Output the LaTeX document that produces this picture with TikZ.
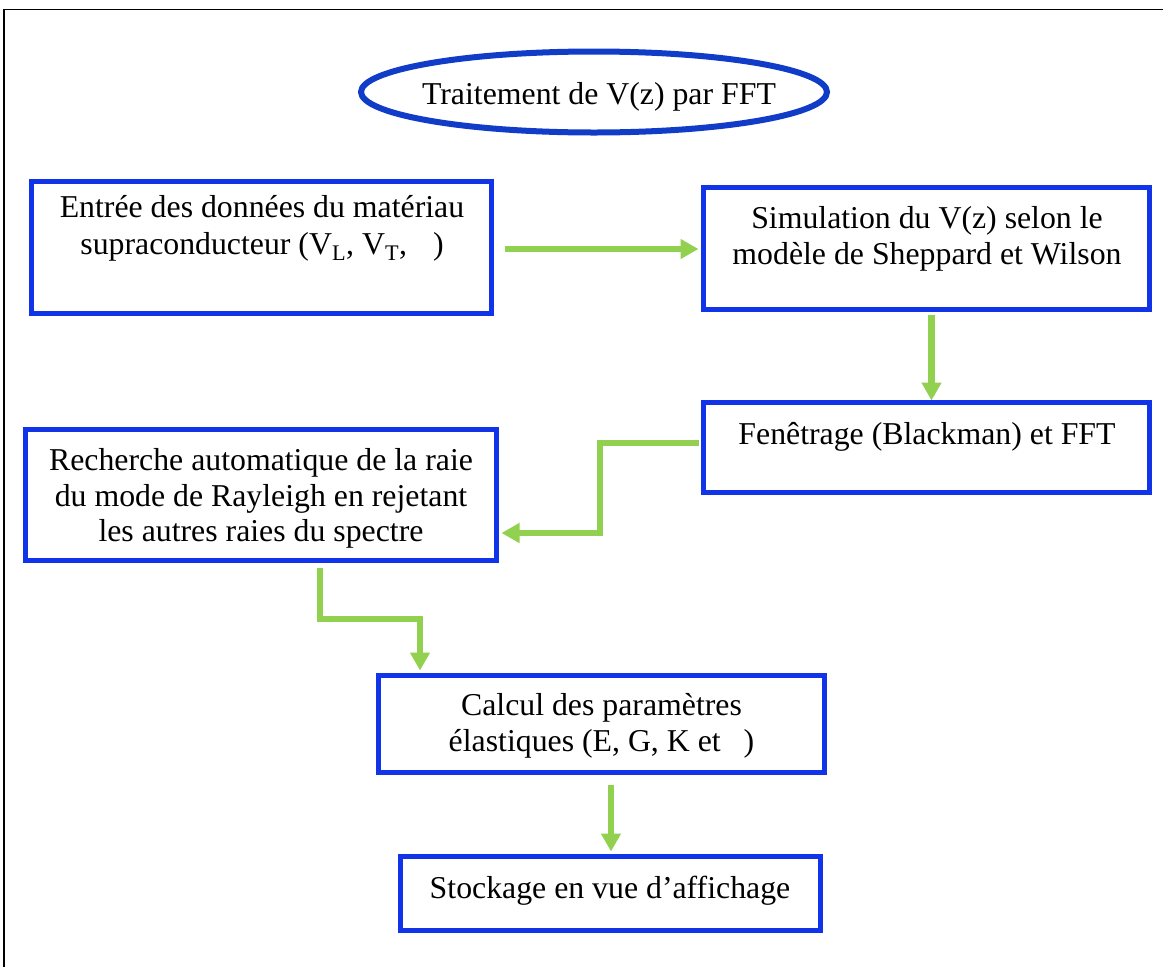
\documentclass[tikz,border=0pt]{standalone}
\usepackage{fontspec}
\setmainfont{Liberation Serif}
\usetikzlibrary{arrows.meta,calc,shapes.geometric}
\definecolor{boxblue}{RGB}{18,52,232}
\definecolor{ellblue}{RGB}{16,60,200}
\definecolor{arrgreen}{RGB}{146,208,80}
\begin{document}
\begin{tikzpicture}[x=1pt,y=-1pt,
  box/.style={draw=boxblue, line width=5pt, rectangle, inner sep=0pt, fill=white},
  txt/.style={font=\fontsize{31.8pt}{36.5pt}\selectfont, align=center, inner sep=0pt, anchor=north},
  flow/.style={draw=arrgreen, line width=6.5pt, -{Triangle[length=18pt,width=19pt]}},
  frameline/.style={draw=black, line width=1.2pt}
]
\useasboundingbox (0,0) rectangle (1163,967);
\fill[white] (0,0) rectangle (1163,967);
\draw[frameline] (4,967) -- (4,9.5) -- (1163,9.5);

% title ellipse
\node[ellipse, draw=ellblue, line width=6pt, minimum width=466pt, minimum height=81pt, inner sep=0pt] (e0) at (594,92) {};
\node[txt] (t0) at (599,74) {\rule{0pt}{30pt}Traitement de V(z) par FFT};

% boxes
\node[box, minimum width=460pt, minimum height=132pt] (b1) at (261.5,247.5) {};
\node[box, minimum width=446pt, minimum height=122pt] (b2) at (926.5,248.5) {};
\node[box, minimum width=446pt, minimum height=90pt]  (b3) at (926.5,447.5) {};
\node[box, minimum width=471pt, minimum height=131pt] (b4) at (261,495) {};
\node[box, minimum width=446pt, minimum height=97pt]  (b5) at (601.5,724) {};
\node[box, minimum width=420pt, minimum height=74pt]  (b6) at (610.5,893.5) {};

% texts
\node[txt] (t1) at (262,187.7) {\rule{0pt}{30pt}Entrée des données du matériau\\supraconducteur (V\textsubscript{L}, V\textsubscript{T}, \hspace{18pt})};
\node[txt] (t2) at (927,198) {\rule{0pt}{30pt}Simulation du V(z) selon le\\modèle de Sheppard et Wilson};
\node[txt] (t3) at (927,414) {\rule{0pt}{30pt}Fenêtrage (Blackman) et FFT};
\node[txt, font=\fontsize{31.8pt}{35.8pt}\selectfont] (t4) at (261,440) {\rule{0pt}{30pt}Recherche automatique de la raie\\du mode de Rayleigh en rejetant\\les autres raies du spectre};
\node[txt] (t5) at (601.5,685) {\rule{0pt}{30pt}Calcul des paramètres\\élastiques (E, G, K et \hspace{15pt})};
\node[txt] (t6) at (610,868) {\rule{0pt}{30pt}Stockage en vue d’affichage};

% connector end points
\coordinate (a1s) at ($(b1.east)+(10.5,1.5)$);
\coordinate (a1e) at ($(b2.west)+(-2.5,0.5)$);
\coordinate (a2s) at ($(b2.south)+(5,2.5)$);
\coordinate (a2e) at ($(b3.north)+(5,0.5)$);
\coordinate (a3s) at ($(b3.west)+(-2.5,-4.5)$);
\coordinate (a3e) at ($(b4.east)+(2.5,38)$);
\coordinate (a4s) at ($(b4.south)+(59,4.5)$);
\coordinate (a4e) at ($(b5.north)+(-181.5,-2.5)$);
\coordinate (a5s) at ($(b5.south)+(9.5,9.5)$);
\coordinate (a5e) at ($(b6.north)+(0.5,-2.5)$);

% connectors
\draw[flow] (a1s) -- (a1e |- a1s);
\draw[flow] (a2s) -- (a2s |- a2e);
\draw[flow] (a3s) -| ($(a3s)!.5!(a3e)$) |- (a3e);
\draw[flow] (a4s) |- ($(a4s)!.5!(a4e)$) -| (a4e);
\draw[flow] (a5s) -- (a5s |- a5e);
\end{tikzpicture}
\end{document}
